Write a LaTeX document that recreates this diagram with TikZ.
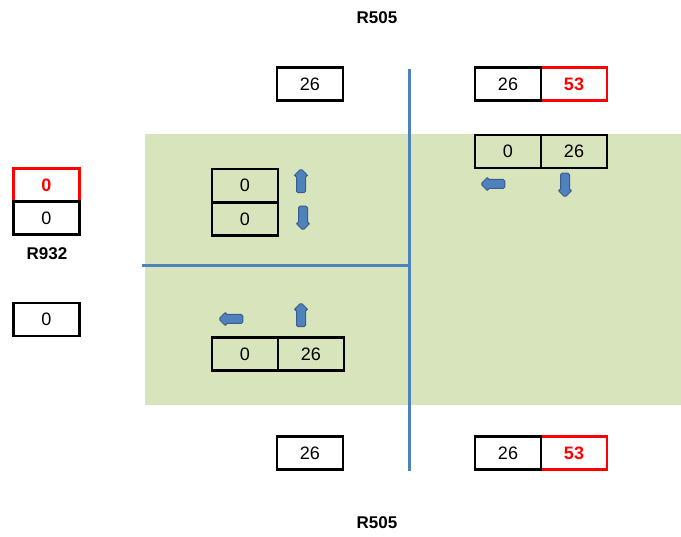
\documentclass[tikz,border=0pt]{standalone}
\usepackage{fontspec}
\setmainfont{Liberation Sans}
\usetikzlibrary{shapes.arrows}
\definecolor{zone}{RGB}{216,228,188}
\definecolor{wall}{RGB}{79,129,189}
\definecolor{arrowline}{RGB}{56,93,138}

\begin{document}
\begin{tikzpicture}[
		x=1pt, y=-1pt,
		every node/.style={font=\fontsize{18}{20}\selectfont},
		cell/.style={draw, line width=2.2pt, minimum width=66pt, minimum height=33pt, inner sep=0pt},
		hot/.style={cell, draw=red, text=red, font=\fontsize{18}{20}\selectfont\bfseries},
		road/.style={font=\fontsize{17}{20}\selectfont\bfseries},
		move/.style={single arrow, draw=arrowline, fill=wall, line width=1pt, inner sep=4pt,
			minimum height=24pt, single arrow head extend=2.5pt, rounded corners=1.5pt}
		]
		\useasboundingbox (0,0) rectangle (681,537);
		% shaded area and dividers
		\fill[zone] (145,134) rectangle (681,405);
		\coordinate (vtop) at (409,69);
		\coordinate (vbot) at (409,471);
		\coordinate (hleft) at (142,266);
		\coordinate (hright) at (409,266);
		\draw[wall, line width=3pt] (vtop) -- (vbot);
		\draw[wall, line width=3pt] (hleft) -- (hright);
		% road names
		\node[road] (rtop) at (377,18) {R505};
		\node[road] (rbot) at (377,523) {R505};
		\node[road] (rwest) at (47,254) {R932};
		% west approach (red cells first, black edges on top)
		\node[hot] (w1) at (46.5,185) {0};
		\node[cell] (w2) at (46.5,218) {0};
		\node[cell] (w3) at (46.5,319.5) {0};
		% north approach
		\node[cell] (n1) at (310,84) {26};
		\node[hot] (ne2) at (574,84) {53};
		\node[cell] (ne1) at (508,84) {26};
		% inside the zone
		\node[cell] (z1) at (508,151.5) {0};
		\node[cell] (z2) at (574,151.5) {26};
		\node[cell] (q1) at (245,185.5) {0};
		\node[cell] (q2) at (245,219) {0};
		\node[cell] (s1) at (245,354) {0};
		\node[cell] (s2) at (311,354) {26};
		% south approach
		\node[cell] (sb1) at (310,453) {26};
		\node[hot] (se2) at (574,453) {53};
		\node[cell] (se1) at (508,453) {26};
		% direction arrows
		\node[move, shape border rotate=180] (zl) at (495,184) {};
		\node[move, shape border rotate=270] (zd) at (565,183) {};
		\node[move, shape border rotate=90] (qu) at (301,183) {};
		\node[move, shape border rotate=270] (qd) at (303,216) {};
		\node[move, shape border rotate=180] (sl) at (233,319) {};
		\node[move, shape border rotate=90] (su) at (301,317) {};
	\end{tikzpicture}
\end{document}
